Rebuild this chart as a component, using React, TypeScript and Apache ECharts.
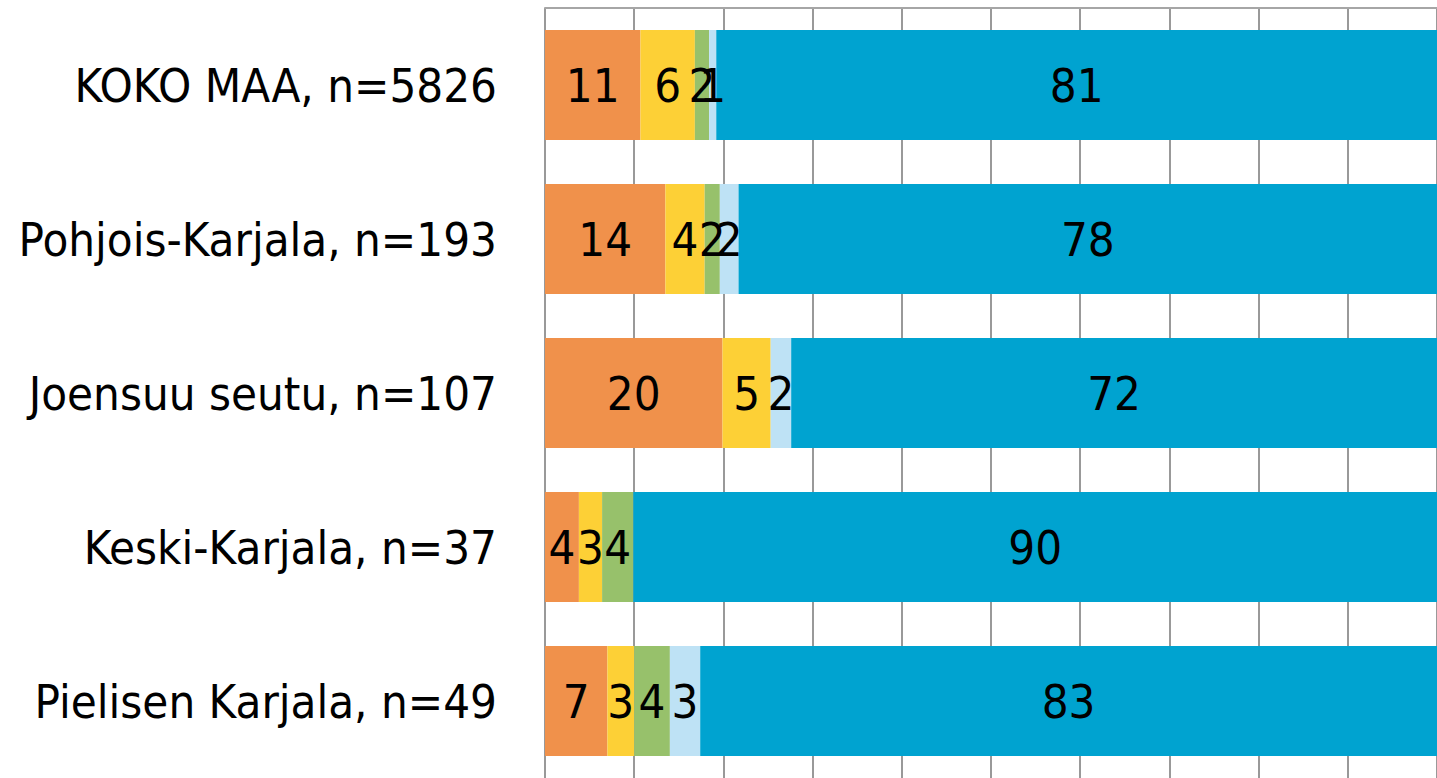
import React, { useEffect, useRef } from "react";
import * as echarts from "echarts";

const categories = [
  "KOKO MAA, n=5826",
  "Pohjois-Karjala, n=193",
  "Joensuu seutu, n=107",
  "Keski-Karjala, n=37",
  "Pielisen Karjala, n=49",
];
const seriesNames = ["s1", "s2", "s3", "s4", "s5"];
const orangeValues = [10.7, 13.5, 19.9, 3.8, 7.0];
const yellowValues = [6.1, 4.4, 5.4, 2.6, 3.0];
const greenValues = [1.6, 1.7, 0, 3.5, 4.0];
const lightBlueValues = [0.8, 2.1, 2.3, 0, 3.4];
const blueValues = [80.8, 78.3, 72.4, 90.1, 82.6];
const xTicks = [0, 10, 20, 30, 40, 50, 60, 70, 80, 90, 100];

const colors = ["#F0914B", "#FDD036", "#97C16B", "#BEE2F5", "#00A3D0"];
const FONT = "DejaVu Sans Condensed";

export default function App() {
  const ref = useRef<HTMLDivElement>(null);
  useEffect(() => {
    if (!ref.current) return;
    const chart = echarts.init(ref.current, null, { renderer: "svg" });
    const all = [orangeValues, yellowValues, greenValues, lightBlueValues, blueValues];
    chart.setOption({
      animation: false,
      grid: { left: 545, top: 8, width: 892, height: 773, containLabel: false },
      xAxis: {
        type: "value",
        position: "top",
        min: xTicks[0],
        max: xTicks[xTicks.length - 1],
        interval: 10,
        axisLine: { show: true, lineStyle: { color: "#A6A6A6", width: 2 } },
        axisTick: { show: false },
        axisLabel: { show: false },
        splitLine: { show: true, lineStyle: { color: "#999999", width: 2 } },
      },
      yAxis: {
        type: "category",
        data: categories,
        inverse: true,
        axisLine: { show: false },
        axisTick: { show: false },
        axisLabel: {
          margin: 48,
          fontFamily: FONT,
          fontSize: 47,
          color: "#000",
        },
      },
      series: all.map((vals, i) => ({
        name: seriesNames[i],
        type: "bar",
        stack: "total",
        barWidth: 110,
        data: vals,
        itemStyle: { color: colors[i] },
        label: {
          show: true,
          position: "inside",
          fontFamily: FONT,
          fontSize: 47,
          color: "#000",
          formatter: (p: any) => (p.value > 0 ? String(Math.round(p.value)) : ""),
        },
      })),
    });
    return () => chart.dispose();
  }, []);
  return (
    <div
      ref={ref}
      style={{ position: "absolute", left: 0, top: 0, width: 1437, height: 778 }}
    />
  );
}
